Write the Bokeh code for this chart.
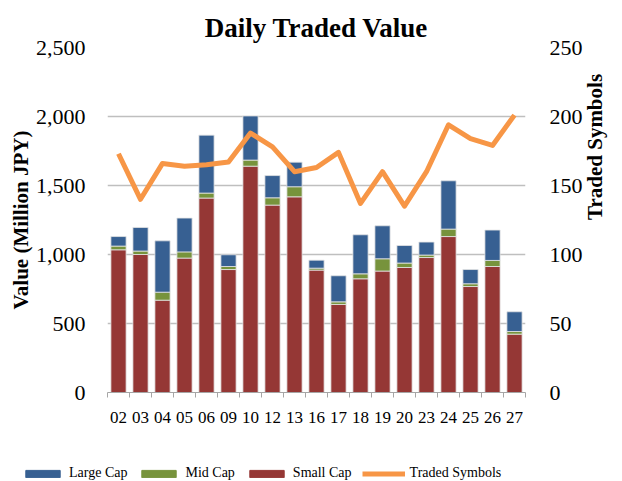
import math
from bokeh.plotting import figure
from bokeh.layouts import column
from bokeh.models import (Range1d, LinearAxis, FixedTicker, NumeralTickFormatter,
                          Legend, LegendItem, ColumnDataSource)
from bokeh.embed import file_html
from bokeh.resources import INLINE

days = ["02", "03", "04", "05", "06", "09", "10", "12", "13", "16",
        "17", "18", "19", "20", "23", "24", "25", "26", "27"]
small_cap = [1034, 1000, 669, 974, 1409, 891, 1640, 1358, 1418, 887,
             638, 824, 880, 906, 978, 1130, 768, 913, 423]
mid_cap = [27, 25, 58, 45, 36, 22, 44, 53, 73, 14,
           19, 36, 89, 32, 18, 54, 20, 44, 19]
large_cap = [69, 171, 372, 245, 420, 85, 320, 161, 178, 58,
             189, 283, 239, 127, 94, 350, 103, 220, 143]
traded_symbols = [173, 140, 166, 164, 165, 167, 188, 178, 160, 163,
                  174, 137, 160, 135, 160, 194, 184, 179, 201]
left_ticks = [0, 500, 1000, 1500, 2000, 2500]
right_ticks = [0, 50, 100, 150, 200, 250]
series_names = ["Large Cap", "Mid Cap", "Small Cap", "Traded Symbols"]

FONT = "Liberation Serif"
BLUE, GREEN, RED, ORANGE = "#376092", "#77933C", "#953735", "#F79646"

idx = list(range(len(days)))
src = ColumnDataSource(dict(x=idx, small=small_cap, mid=mid_cap, large=large_cap,
                            sym=traded_symbols))

p = figure(width=622, height=451, output_backend="svg", toolbar_location=None,
           x_range=Range1d(-0.5, len(days) - 0.5), y_range=Range1d(0, 2500),
           min_border_left=107, min_border_right=97, min_border_top=47,
           min_border_bottom=59)
p.frame_align = False
p.outline_line_color = None
p.background_fill_color = "white"

p.title.text = "Daily Traded Value"
p.title.text_font = FONT
p.title.text_font_size = "27px"
p.title.text_font_style = "bold"
p.title.align = "center"
p.title.text_color = "black"

stack = p.vbar_stack(["small", "mid", "large"], x="x", width=0.69, source=src,
                     color=[RED, GREEN, BLUE], line_color="#E4E4E4", line_width=0.8)

p.extra_y_ranges = {"sym": Range1d(0, 250)}
line = p.line("x", "sym", source=src, y_range_name="sym", line_color=ORANGE,
              line_width=5, line_join="round")

# grid
p.xgrid.visible = False
p.ygrid.ticker = FixedTicker(ticks=left_ticks)
p.ygrid.grid_line_color = "#BFBFBF"
p.ygrid.grid_line_width = 1.5
p.ygrid.level = "underlay"

# x axis
xa = p.xaxis[0]
xa.ticker = FixedTicker(ticks=idx, minor_ticks=[i - 0.5 for i in idx] + [len(days) - 0.5])
xa.major_label_overrides = {i: d for i, d in enumerate(days)}
xa.major_tick_out = 0
xa.major_tick_in = 0
xa.minor_tick_out = 5
xa.minor_tick_in = 0
xa.minor_tick_line_color = "#A6A6A6"
xa.axis_line_color = "#A6A6A6"
xa.axis_line_width = 1.2
xa.major_label_text_font = FONT
xa.major_label_text_font_size = "17px"
xa.major_label_text_color = "black"
xa.major_label_standoff = 14

# left axis
ya = p.yaxis[0]
ya.ticker = FixedTicker(ticks=left_ticks)
ya.formatter = NumeralTickFormatter(format="0,0")
ya.axis_line_color = None
ya.major_tick_line_color = None
ya.minor_tick_line_color = None
ya.major_label_text_font = FONT
ya.major_label_text_font_size = "22px"
ya.major_label_text_color = "black"
ya.major_label_standoff = 16
ya.axis_label = "Value (Million JPY)"
ya.axis_label_text_font = FONT
ya.axis_label_text_font_size = "21px"
ya.axis_label_text_font_style = "bold"
ya.axis_label_text_color = "black"
ya.axis_label_standoff = 0

# right axis
ra = LinearAxis(y_range_name="sym", ticker=FixedTicker(ticks=right_ticks))
ra.axis_line_color = None
ra.major_tick_line_color = None
ra.minor_tick_line_color = None
ra.major_label_text_font = FONT
ra.major_label_text_font_size = "22px"
ra.major_label_text_color = "black"
ra.major_label_standoff = 18
ra.axis_label = "Traded Symbols"
ra.axis_label_text_font = FONT
ra.axis_label_text_font_size = "21px"
ra.axis_label_text_font_style = "bold"
ra.axis_label_text_color = "black"
ra.axis_label_standoff = 9
ra.axis_label_orientation = math.pi / 2
p.add_layout(ra, "right")

# legend strip (separate small figure below the chart); the proxy glyphs share
# the chart's data but sit outside this strip's visible ranges
lg = figure(width=622, height=30, output_backend="svg", toolbar_location=None,
            x_range=Range1d(-200, -199), y_range=Range1d(-200, -199), min_border=0)
lg.frame_align = False
lg.axis.visible = False
lg.grid.visible = False
lg.outline_line_color = None
r_large = lg.vbar(x="x", top="large", width=0.5, source=src, color=BLUE)
r_mid = lg.vbar(x="x", top="mid", width=0.5, source=src, color=GREEN)
r_small = lg.vbar(x="x", top="small", width=0.5, source=src, color=RED)
r_line = lg.line(x="x", y="sym", source=src, line_color=ORANGE, line_width=5)

legend = Legend(items=[
    LegendItem(label=series_names[0], renderers=[r_large]),
    LegendItem(label=series_names[1], renderers=[r_mid]),
    LegendItem(label=series_names[2], renderers=[r_small]),
    LegendItem(label=series_names[3], renderers=[r_line]),
], orientation="horizontal", location=(21, 0))
legend.border_line_color = None
legend.background_fill_alpha = 0
legend.padding = 0
legend.margin = 0
legend.spacing = 10
legend.glyph_width = 43
legend.glyph_height = 9
legend.label_height = 16
legend.label_standoff = 5
legend.label_text_font = FONT
legend.label_text_font_size = "14px"
legend.label_text_color = "black"
lg.add_layout(legend, "center")

layout = column(p, lg, spacing=0)
open("out.html", "w").write(file_html(layout, INLINE))
